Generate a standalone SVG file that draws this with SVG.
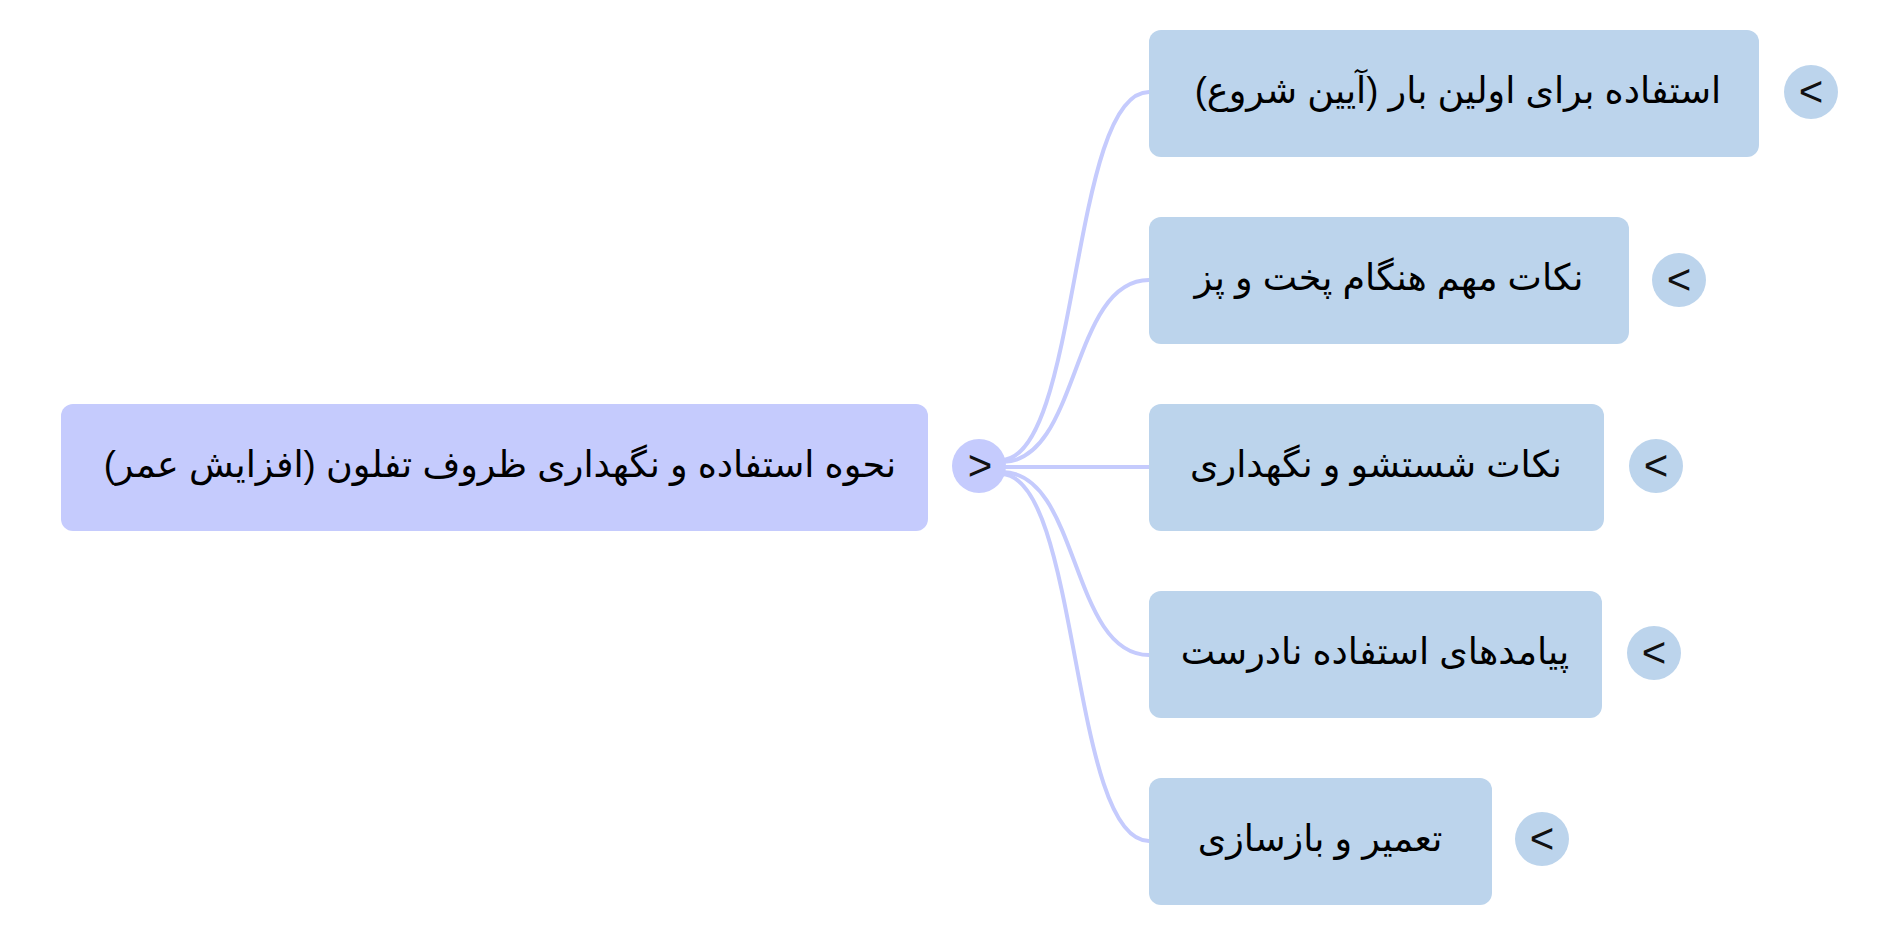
<svg xmlns="http://www.w3.org/2000/svg" width="1900" height="937" viewBox="0 0 1900 937">
<style>
.root{fill:#c5cbfd}
.child{fill:#bcd4ec}
.lbl{font-family:"Liberation Sans","DejaVu Sans",sans-serif;font-size:36.5px;fill:#000;text-anchor:middle;direction:rtl;unicode-bidi:embed}
.chev{font-family:"Liberation Sans",sans-serif;font-size:42px;fill:#111;text-anchor:middle}
.edge{fill:none;stroke:#c5cbfd;stroke-width:4}
</style>
<rect width="1900" height="937" fill="#fff"/>
<g id="connectors">
<path class="edge" d="M1001 460 C1080 460,1070 92,1149 92"/>
<path class="edge" d="M1002 462 C1080 462,1070 280,1149 280"/>
<path class="edge" d="M1003 467 L1149 467"/>
<path class="edge" d="M1002 472 C1080 472,1070 655,1149 655"/>
<path class="edge" d="M1001 474 C1080 474,1070 841,1149 841"/>
</g>
<g id="root">
<rect class="root" x="61" y="404" width="867" height="127" rx="12"/>
<text class="lbl" x="500" y="477">نحوه استفاده و نگهداری ظروف تفلون (افزایش عمر)</text>
<circle class="root" cx="979" cy="466" r="27"/>
<text class="chev" x="980" y="480">&gt;</text>
</g>
<g id="n1">
<rect class="child" x="1149" y="30" width="610" height="127" rx="12"/>
<text class="lbl" x="1458" y="103">استفاده برای اولین بار (آیین شروع)</text>
<circle class="child" cx="1811" cy="92" r="27"/>
<text class="chev" x="1811" y="106">&lt;</text>
</g>
<g id="n2">
<rect class="child" x="1149" y="217" width="480" height="127" rx="12"/>
<text class="lbl" x="1389" y="290">نکات مهم هنگام پخت و پز</text>
<circle class="child" cx="1679" cy="280" r="27"/>
<text class="chev" x="1679" y="294">&lt;</text>
</g>
<g id="n3">
<rect class="child" x="1149" y="404" width="455" height="127" rx="12"/>
<text class="lbl" x="1376" y="477">نکات شستشو و نگهداری</text>
<circle class="child" cx="1656" cy="466" r="27"/>
<text class="chev" x="1656" y="480">&lt;</text>
</g>
<g id="n4">
<rect class="child" x="1149" y="591" width="453" height="127" rx="12"/>
<text class="lbl" x="1375" y="664">پیامدهای استفاده نادرست</text>
<circle class="child" cx="1654" cy="653" r="27"/>
<text class="chev" x="1654" y="667">&lt;</text>
</g>
<g id="n5">
<rect class="child" x="1149" y="778" width="343" height="127" rx="12"/>
<text class="lbl" x="1320" y="851">تعمیر و بازسازی</text>
<circle class="child" cx="1542" cy="839" r="27"/>
<text class="chev" x="1542" y="853">&lt;</text>
</g>
</svg>
